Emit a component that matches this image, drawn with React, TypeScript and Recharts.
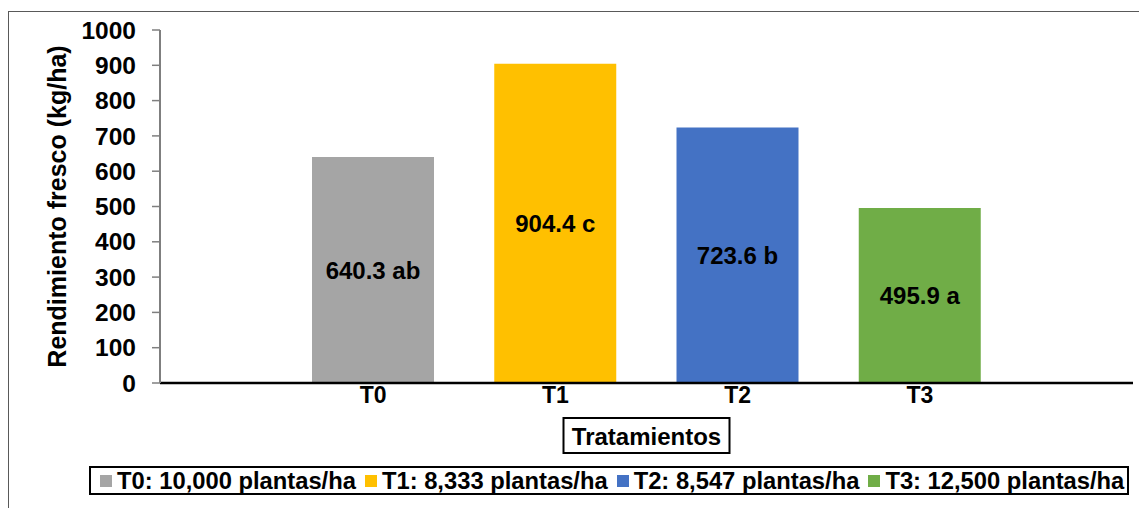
import { Bar, BarChart, Cell, LabelList, Legend, XAxis, YAxis } from 'recharts';

const CATEGORIES = ['T0', 'T1', 'T2', 'T3'];
const YIELD_KG_HA = [640.3, 904.4, 723.6, 495.9];
const LETTERS = ['ab', 'c', 'b', 'a'];
const LEGEND_LABELS = [
  'T0: 10,000 plantas/ha',
  'T1: 8,333 plantas/ha',
  'T2: 8,547 plantas/ha',
  'T3: 12,500 plantas/ha',
];
const Y_TICKS = [0, 100, 200, 300, 400, 500, 600, 700, 800, 900, 1000];
const COLORS = ['#a5a5a5', '#ffc000', '#4472c4', '#70ad47'];

const FONT = '"Liberation Sans", Arial, sans-serif';

const data = CATEGORIES.map((name, i) => ({
  name,
  value: YIELD_KG_HA[i],
  label: `${YIELD_KG_HA[i].toFixed(1)} ${LETTERS[i]}`,
}));

function AxisTitleBox({ viewBox }: any) {
  const cx = viewBox.x + viewBox.width / 2;
  const top = viewBox.y + 35;
  return (
    <g>
      <rect x={cx - 83} y={top} width={166} height={35} fill="#fff" stroke="#000" strokeWidth={2} />
      <text
        x={cx}
        y={top + 18}
        textAnchor="middle"
        dominantBaseline="central"
        fontSize={24}
        fontWeight="bold"
        fontFamily={FONT}
        fill="#000"
      >
        Tratamientos
      </text>
    </g>
  );
}

function YTitle({ viewBox }: any) {
  const x = 49;
  const y = viewBox.y + viewBox.height / 2;
  return (
    <text
      x={x}
      y={y}
      transform={`rotate(-90, ${x}, ${y})`}
      textAnchor="middle"
      dominantBaseline="central"
      fontSize={25}
      fontWeight="bold"
      fontFamily={FONT}
      fill="#000"
    >
      Rendimiento fresco (kg/ha)
    </text>
  );
}

function LegendBox() {
  return (
    <div
      style={{
        border: '2px solid #000',
        height: 25,
        display: 'flex',
        alignItems: 'center',
        paddingLeft: 9,
        gap: 9,
        fontFamily: FONT,
        fontWeight: 'bold',
        fontSize: 23.75,
        color: '#000',
        whiteSpace: 'nowrap',
        boxSizing: 'content-box',
      }}
    >
      {LEGEND_LABELS.map((txt, i) => (
        <span key={txt} style={{ display: 'flex', alignItems: 'center' }}>
          <span
            style={{ width: 12, height: 12, background: COLORS[i], marginRight: 5, display: 'inline-block' }}
          />
          {txt}
        </span>
      ))}
    </div>
  );
}

export default function App() {
  return (
    <div style={{ position: 'relative', width: 1139, height: 500 }}>
      <div
        style={{
          position: 'absolute',
          left: 0,
          top: 3,
          right: 0,
          bottom: 0,
          borderTop: '1.5px solid #595959',
          borderLeft: '1.5px solid #595959',
        }}
      />
      <BarChart
        width={1139}
        height={500}
        data={data}
        margin={{ top: 22, right: 14, bottom: 95, left: 0 }}
        style={{ position: 'relative' }}
      >
        <XAxis
          dataKey="name"
          padding={{ left: 122, right: 122 }}
          height={30}
          tickSize={0}
          tickMargin={4}
          axisLine={{ stroke: '#000', strokeWidth: 2.5 }}
          tick={{ fill: '#000', fontSize: 23, fontWeight: 'bold', fontFamily: FONT }}
          label={<AxisTitleBox />}
        />
        <XAxis
          xAxisId="top"
          orientation="top"
          dataKey="name"
          padding={{ left: 122, right: 122 }}
          height={0}
          tick={false}
          tickLine={false}
          axisLine={{ stroke: '#000', strokeWidth: 2.5 }}
        />
        <YAxis
          width={152}
          domain={[0, 1000]}
          ticks={Y_TICKS}
          interval={0}
          tickSize={8}
          tickMargin={16}
          tickLine={{ stroke: '#7f7f7f', strokeWidth: 1.5 }}
          axisLine={{ stroke: '#7f7f7f', strokeWidth: 2 }}
          tick={{ fill: '#000', fontSize: 24.5, fontWeight: 'bold', fontFamily: FONT }}
          label={<YTitle />}
        />
        <YAxis
          yAxisId="right"
          orientation="right"
          width={0}
          domain={[0, 1000]}
          tick={false}
          tickLine={false}
          axisLine={{ stroke: '#000', strokeWidth: 2.5 }}
        />
        <Legend
          layout="horizontal"
          verticalAlign="middle"
          align="center"
          content={<LegendBox />}
          wrapperStyle={{ top: 458, left: 81, width: 1040, height: 29 }}
        />
        <Bar dataKey="value" barSize={122} isAnimationActive={false}>
          {data.map((d, i) => (
            <Cell key={d.name} fill={COLORS[i]} />
          ))}
          <LabelList
            dataKey="label"
            position="center"
            fill="#000"
            fontSize={24}
            fontWeight="bold"
            fontFamily={FONT}
          />
        </Bar>
      </BarChart>
    </div>
  );
}
